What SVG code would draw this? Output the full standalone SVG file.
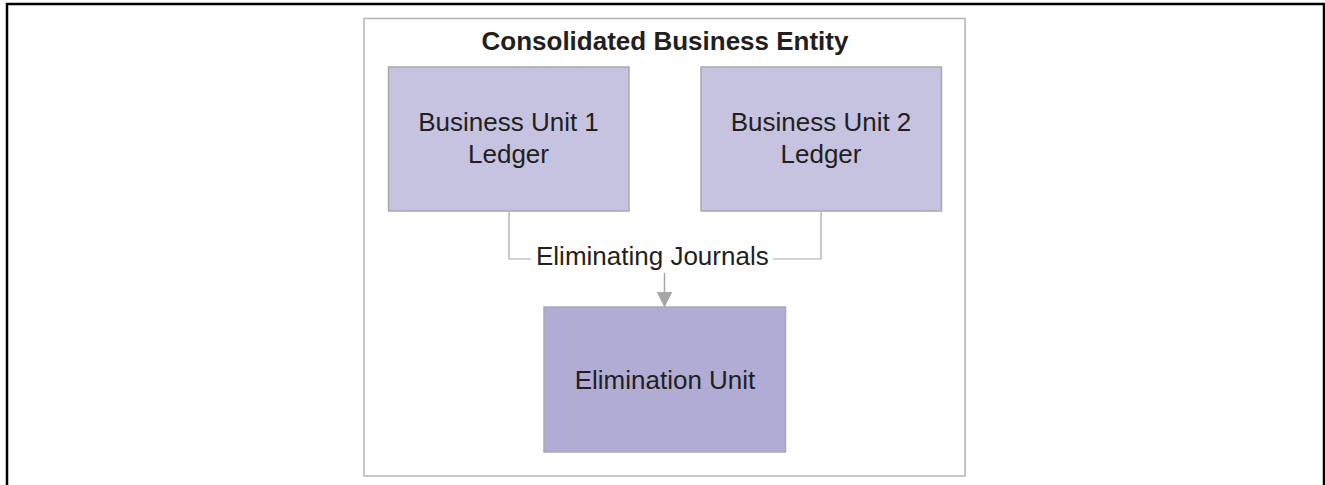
<svg xmlns="http://www.w3.org/2000/svg" width="1325" height="485" viewBox="0 0 1325 485">
  <style>
    text { font-family: "Liberation Sans", Arial, sans-serif; font-size: 26px; fill: #231F20; }
    .title { font-weight: bold; }
    .unit { fill: #C6C3E0; stroke: #A9A9AD; stroke-width: 1.5; }
    .elim { fill: #B1ACD4; stroke: #A9A9AD; stroke-width: 1.5; }
    .conn { fill: none; stroke: #A6A6A8; stroke-width: 1.2; }
  </style>
  <defs>
    <marker id="arrow" markerUnits="userSpaceOnUse" markerWidth="16" markerHeight="17" refX="15.5" refY="8" orient="auto">
      <path d="M0,0 L16,8 L0,16 Z" fill="#A6A6A8"/>
    </marker>
  </defs>
  <rect width="1325" height="485" fill="#FFFFFF"/>
  <path d="M7,490 V4 H1324 V490" fill="none" stroke="#000000" stroke-width="2.5"/>

  <g id="container">
    <rect x="364" y="18.5" width="601" height="457.5" fill="#FFFFFF" stroke="#B4B4B4" stroke-width="1.5"/>
    <text class="title" x="665" y="50" text-anchor="middle">Consolidated Business Entity</text>
  </g>

  <g id="connectors">
    <path class="conn" d="M509,211 V259 H531"/>
    <path class="conn" d="M821,211 V259 H773"/>
    <text x="536" y="265">Eliminating Journals</text>
    <line x1="664.5" y1="273" x2="664.5" y2="307" stroke="#A6A6A8" stroke-width="1.5" marker-end="url(#arrow)"/>
  </g>

  <g id="bu1">
    <rect class="unit" x="388.5" y="67" width="240.5" height="144"/>
    <text x="508.5" y="131" text-anchor="middle">Business Unit 1</text>
    <text x="508.5" y="163" text-anchor="middle">Ledger</text>
  </g>

  <g id="bu2">
    <rect class="unit" x="701" y="67" width="240.5" height="144"/>
    <text x="821" y="131" text-anchor="middle">Business Unit 2</text>
    <text x="821" y="163" text-anchor="middle">Ledger</text>
  </g>

  <g id="elimination">
    <rect class="elim" x="544" y="307" width="241.5" height="145"/>
    <text x="665" y="389" text-anchor="middle">Elimination Unit</text>
  </g>
</svg>
